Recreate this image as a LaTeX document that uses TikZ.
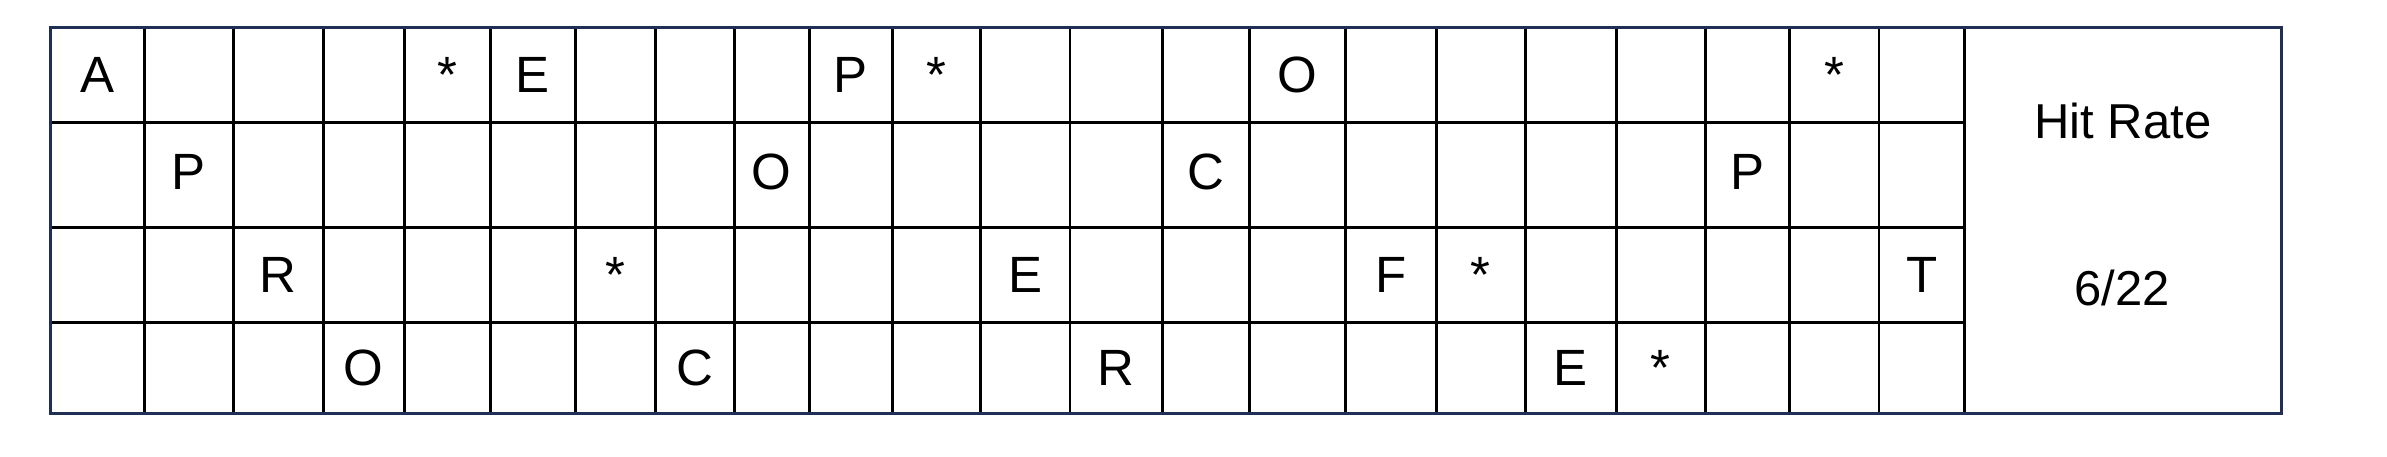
\documentclass[tikz,border=0pt]{standalone}
\usepackage{fontspec}
\setmainfont{Liberation Sans}
\definecolor{navy}{RGB}{31,48,84}
\begin{document}
\begin{tikzpicture}[x=1pt,y=-1pt,
  gridline/.style={line width=2.6pt,draw=black},
  frame/.style={line width=3pt,draw=navy},
  cell/.style={inner sep=0pt,font=\fontsize{51}{60}\selectfont},
  info/.style={inner sep=0pt,font=\fontsize{49}{58}\selectfont}]
\useasboundingbox (0,0) rectangle (2387,456);
% vertical lines
\foreach \x in {144.3,233.3,323.3,404.3,490.3,575.3,655.3,734.3,809.3,892.3,980.3,1070,1162.3,1249.3,1345.3,1436.3,1525.3,1616.3,1705.3,1789.3,1879,1964.3}
  \draw[gridline] (\x,27.3) -- (\x,413.3);
% horizontal lines
\foreach \y in {122.3,227.3,322.3}
  \draw[gridline] (50,\y) -- (1964.3,\y);
% frame
\draw[frame] (50,27.3) rectangle (2281.7,413.3);
% cell texts
\foreach \x/\y/\t [count=\i] in {
  97.2/74.8/A, 188.8/172/P, 278.3/275.3/R, 363.8/368.3/O,
  447.3/74.8/*, 532.8/74.8/E, 615.3/275.3/*, 694.8/368.3/C,
  771.8/172/O, 850.8/74.8/P, 936.3/74.8/*, 1025.2/275.3/E,
  1116.2/368.3/R, 1205.8/172/C, 1297.3/74.8/O, 1390.8/275.3/F,
  1480.8/275.3/*, 1570.8/368.3/E, 1660.8/368.3/*, 1747.3/172/P,
  1834.2/74.8/*, 1921.7/275.3/T}
  \node[cell] (c\i) at (\x,\y) {\t};
\node[info] (hit) at (2123,121) {Hit Rate};
\node[info] (rate) at (2122,287.5) {6/22};
\end{tikzpicture}
\end{document}
